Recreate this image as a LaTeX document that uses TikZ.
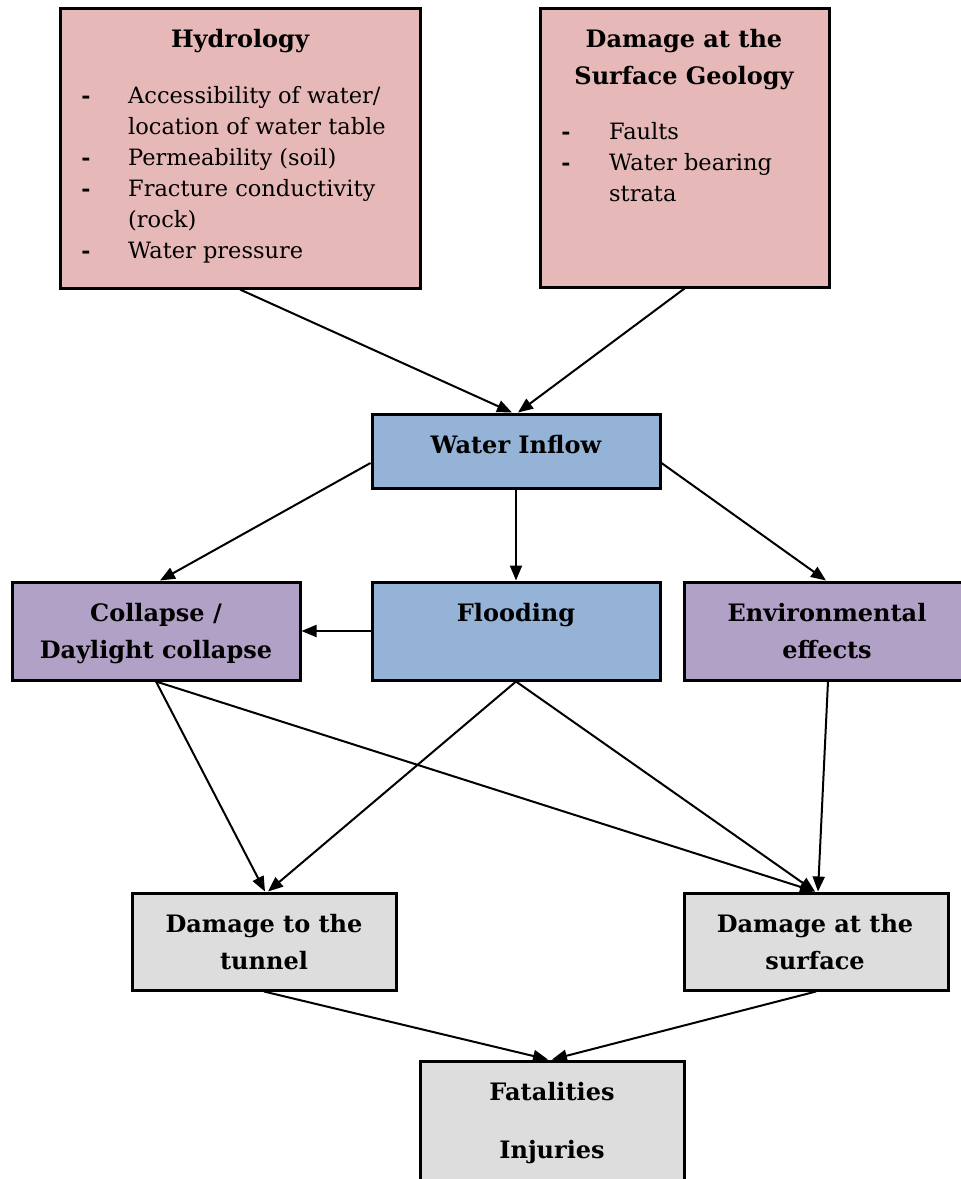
\documentclass[tikz,border=0pt]{standalone}
\usepackage{fontspec}
\setmainfont{DejaVu Serif}
\usetikzlibrary{arrows.meta}
\definecolor{pinkc}{HTML}{E6B8B7}
\definecolor{bluec}{HTML}{95B3D7}
\definecolor{purpc}{HTML}{B2A1C7}
\definecolor{greyc}{HTML}{DDDDDD}
\begin{document}
\begin{tikzpicture}[x=1pt,y=-1pt,
  box/.style={draw=black,line width=3pt,rectangle,inner sep=0pt},
  pinkbox/.style={box,fill=pinkc},
  bluebox/.style={box,fill=bluec},
  purpbox/.style={box,fill=purpc},
  greybox/.style={box,fill=greyc},
  ttl/.style={font=\fontsize{24}{28}\selectfont\bfseries,anchor=base,inner sep=0pt},
  bdy/.style={font=\fontsize{22.5}{27}\selectfont,anchor=base west,inner sep=0pt},
  dsh/.style={font=\fontsize{22}{27}\selectfont\bfseries,anchor=base,inner sep=0pt},
  arr/.style={line width=2pt,-{Triangle[length=15pt,width=12pt]}}
]
\useasboundingbox (0,0) rectangle (961,1179);
% boxes
\node[pinkbox,minimum width=360pt,minimum height=280pt] (hyd) at (240,148) {};
\node[pinkbox,minimum width=289pt,minimum height=279pt] (geo) at (684.5,147.5) {};
\node[bluebox,minimum width=288pt,minimum height=74pt] (inflow) at (516,451) {};
\node[purpbox,minimum width=288pt,minimum height=98pt] (coll) at (156,631) {};
\node[bluebox,minimum width=288pt,minimum height=98pt] (flood) at (516,631) {};
\node[purpbox,minimum width=288pt,minimum height=98pt] (env) at (828,631) {};
\node[greybox,minimum width=264pt,minimum height=97pt] (tun) at (264,941.5) {};
\node[greybox,minimum width=264pt,minimum height=97pt] (surf) at (816,941.5) {};
\node[greybox,minimum width=264pt,minimum height=129pt] (fat) at (552,1125.5) {};
% hydrology text
\node[ttl] (hydt) at (240,47) {Hydrology};
\node[dsh] (hd1) at (86,103) {-};
\node[dsh] (hd2) at (86,165) {-};
\node[dsh] (hd3) at (86,196) {-};
\node[dsh] (hd4) at (86,258) {-};
\node[bdy] (h1) at (128,103) {Accessibility of water/};
\node[bdy] (h2) at (128,134) {location of water table};
\node[bdy] (h3) at (128,165) {Permeability (soil)};
\node[bdy] (h4) at (128,196) {Fracture conductivity};
\node[bdy] (h5) at (128,227) {(rock)};
\node[bdy] (h6) at (128,258) {Water pressure};
% geology text
\node[ttl] (geot1) at (684,47) {Damage at the};
\node[ttl] (geot2) at (684,84) {Surface Geology};
\node[dsh] (gd1) at (566,139) {-};
\node[dsh] (gd2) at (566,170) {-};
\node[bdy] (g1) at (609,139) {Faults};
\node[bdy] (g2) at (609,170) {Water bearing};
\node[bdy] (g3) at (609,201) {strata};
% other labels
\node[ttl] (inflowt) at (516,453) {Water Inflow};
\node[ttl] (collt1) at (156,621) {Collapse /};
\node[ttl] (collt2) at (156,658) {Daylight collapse};
\node[ttl] (floodt) at (516,621) {Flooding};
\node[ttl] (envt1) at (827,621) {Environmental};
\node[ttl] (envt2) at (827,658) {effects};
\node[ttl] (tunt1) at (264,932) {Damage to the};
\node[ttl] (tunt2) at (264,969) {tunnel};
\node[ttl] (surft1) at (815,932) {Damage at the};
\node[ttl] (surft2) at (815,969) {surface};
\node[ttl] (fatt1) at (552,1100) {Fatalities};
\node[ttl] (fatt2) at (552,1158) {Injuries};
% connectors
\draw[arr] (hyd.south) -- ([xshift=-4pt]inflow.north);
\draw[arr] (geo.south) -- ([xshift=2pt]inflow.north);
\draw[arr] ([yshift=-12pt]inflow.west) -- ([xshift=4pt]coll.north);
\draw[arr] (inflow.south) -- (flood.north);
\draw[arr] ([yshift=-12pt]inflow.east) -- ([xshift=-2pt]env.north);
\draw[arr] (flood.west) -- (coll.east);
\draw[arr] (coll.south) -- ([xshift=1pt]tun.north);
\draw[arr] (coll.south) -- ([xshift=-1pt]surf.north);
\draw[arr] (flood.south) -- ([xshift=4pt]tun.north);
\draw[arr] (flood.south) -- ([xshift=-1pt]surf.north);
\draw[arr] (env.south) -- ([xshift=2pt]surf.north);
\draw[arr] (tun.south) -- ([xshift=-4pt]fat.north);
\draw[arr] (surf.south) -- ([xshift=0pt]fat.north);
\end{tikzpicture}
\end{document}
